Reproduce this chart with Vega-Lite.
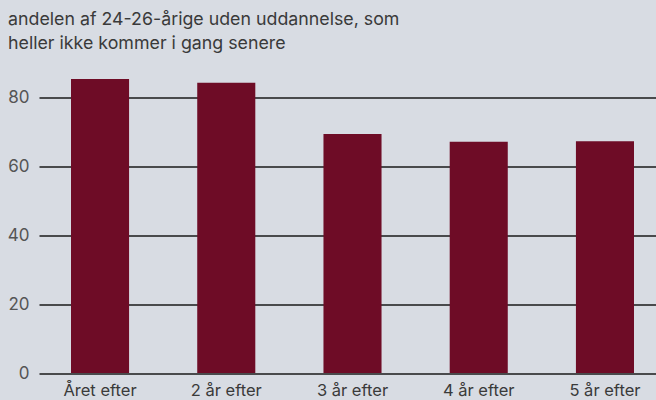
{
  "$schema": "https://vega.github.io/schema/vega-lite/v6.json",
  "width": 627,
  "height": 310.5,
  "autosize": {"type": "none"},
  "padding": {"left": 39, "top": 62.5, "right": 0, "bottom": 27},
  "background": "#d8dce3",
  "title": {
    "text": ["andelen af 24-26-årige uden uddannelse, som", "heller ikke kommer i gang senere"],
    "anchor": "start",
    "frame": "group",
    "dx": -31,
    "offset": 10,
    "font": "Inter",
    "fontSize": 17.8,
    "fontWeight": 400,
    "color": "#3a3a3a",
    "lineHeight": 24
  },
  "config": {
    "view": {"stroke": null},
    "font": "Inter"
  },
  "data": {
    "values": [
      {"periode": "Året efter", "andel": 85.2},
      {"periode": "2 år efter", "andel": 84.1},
      {"periode": "3 år efter", "andel": 69.3},
      {"periode": "4 år efter", "andel": 67.0},
      {"periode": "5 år efter", "andel": 67.2}
    ]
  },
  "mark": {"type": "bar", "color": "#6e0c26"},
  "encoding": {
    "x": {
      "field": "periode",
      "type": "nominal",
      "sort": null,
      "scale": {"paddingInner": 0.54, "paddingOuter": 0.2535},
      "axis": {
        "title": null,
        "labelAngle": 0,
        "ticks": false,
        "domain": false,
        "labelFontSize": 16.5,
        "labelColor": "#3a3a3a",
        "labelPadding": 9,
        "labelFont": "Inter"
      }
    },
    "y": {
      "field": "andel",
      "type": "quantitative",
      "scale": {"domain": [0, 90], "nice": false},
      "axis": {
        "title": null,
        "values": [0, 20, 40, 60, 80],
        "ticks": false,
        "domain": false,
        "grid": true,
        "gridColor": "#1a1a1a",
        "gridWidth": 1.3,
        "labelFontSize": 17,
        "labelColor": "#555555",
        "labelPadding": 10,
        "labelFont": "Inter"
      }
    }
  }
}
